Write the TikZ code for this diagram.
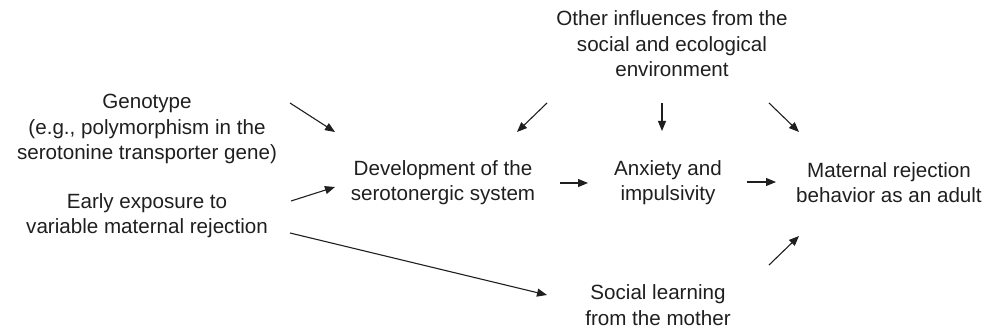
\documentclass[tikz,border=0pt]{standalone}
\usepackage{fontspec}
\setmainfont{Liberation Sans}
\usetikzlibrary{arrows.meta}
\begin{document}
\begin{tikzpicture}[x=1pt,y=-1pt,
  lbl/.style={align=center,inner sep=0pt,font=\fontsize{20.6}{25.5}\selectfont,text=black!88},
  arr/.style={-{Triangle[length=10pt,width=8pt]},line width=1.1pt,draw=black!88}]
\useasboundingbox (0,0) rectangle (989,331);
\node[lbl] (geno) at (147,129) {Genotype\\(e.g., polymorphism in the\\serotonine transporter gene)};
\node[lbl] (early) at (147,215.5) {Early exposure to\\variable maternal rejection};
\node[lbl] (dev) at (443,182.5) {Development of the\\serotonergic system};
\node[lbl] (anx) at (668,182.5) {Anxiety and\\impulsivity};
\node[lbl] (mat) at (889,182.5) {Maternal rejection\\behavior as an adult};
\node[lbl] (other) at (672,44) {Other influences from the\\social and ecological\\environment};
\node[lbl] (soc) at (658,305) {Social learning\\from the mother};
\coordinate (g1) at (290,103); \coordinate (g2) at (335,132);
\coordinate (e1) at (291,201); \coordinate (e2) at (335,187);
\coordinate (l1) at (290,233); \coordinate (l2) at (547,295);
\coordinate (o1) at (547,103); \coordinate (o2) at (517,132);
\coordinate (a1) at (662,103); \coordinate (a2) at (662,131);
\coordinate (m1) at (769,103); \coordinate (m2) at (799,132);
\coordinate (d1) at (560,183); \coordinate (d2) at (588,183);
\coordinate (x1) at (747,182); \coordinate (x2) at (776,182);
\coordinate (s1) at (769,265); \coordinate (s2) at (799,236);
\draw[arr] (g1) -- (g2);
\draw[arr] (e1) -- (e2);
\draw[arr] (l1) -- (l2);
\draw[arr] (o1) -- (o2);
\draw[arr] (a1) -- (a2);
\draw[arr] (m1) -- (m2);
\draw[arr] (d1) -- (d2);
\draw[arr] (x1) -- (x2);
\draw[arr] (s1) -- (s2);
\end{tikzpicture}
\end{document}
